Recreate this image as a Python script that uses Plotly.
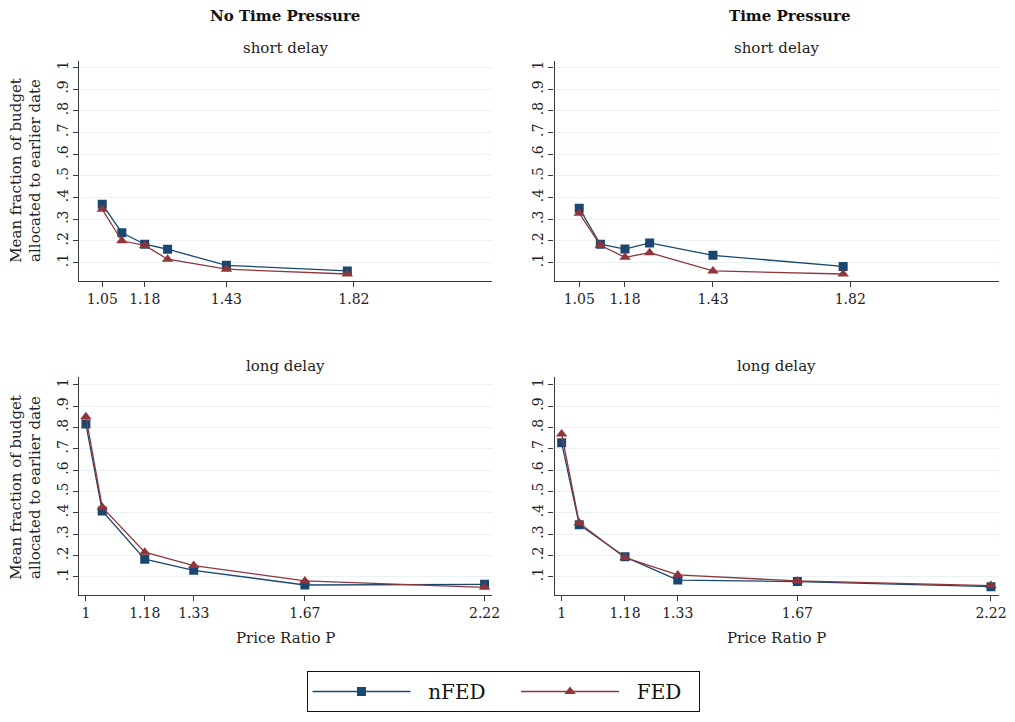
import plotly.graph_objects as go

# ---------------- data ----------------
x_short = [1.05, 1.11, 1.18, 1.25, 1.43, 1.80]
x_long = [1.00, 1.05, 1.18, 1.33, 1.67, 2.22]

short_ticks = [1.05, 1.18, 1.43, 1.82]
long_ticks = [1.00, 1.18, 1.33, 1.67, 2.22]
short_ticktext = ["1.05", "1.18", "1.43", "1.82"]
long_ticktext = ["1", "1.18", "1.33", "1.67", "2.22"]

y_ticks = [0.1, 0.2, 0.3, 0.4, 0.5, 0.6, 0.7, 0.8, 0.9, 1.0]
y_ticktext = [".1", ".2", ".3", ".4", ".5", ".6", ".7", ".8", ".9", "1"]

# No Time Pressure
ntp_short_nfed = [0.369, 0.238, 0.185, 0.162, 0.088, 0.062]
ntp_short_fed = [0.346, 0.201, 0.180, 0.116, 0.070, 0.048]
ntp_long_nfed = [0.816, 0.408, 0.182, 0.130, 0.061, 0.064]
ntp_long_fed = [0.851, 0.426, 0.215, 0.152, 0.080, 0.050]

# Time Pressure
tp_short_nfed = [0.351, 0.185, 0.163, 0.191, 0.134, 0.083]
tp_short_fed = [0.328, 0.180, 0.125, 0.146, 0.062, 0.048]
tp_long_nfed = [0.729, 0.344, 0.193, 0.084, 0.077, 0.053]
tp_long_fed = [0.770, 0.352, 0.189, 0.108, 0.080, 0.058]

col_titles = ["No Time Pressure", "Time Pressure"]
row_titles = ["short delay", "long delay"]
x_title = "Price Ratio P"
y_title = "Mean fraction of budget<br>allocated to earlier date"
series_names = ["nFED", "FED"]

# ---------------- styling ----------------
W, H = 1015, 722
FONT = "DejaVu Serif"
NAVY = "#1a476f"
MAROON = "#90353b"
GRID = "#eaf2f3"
AXIS = "#3a3a3a"
NB = "\u00a0"

def px_x(p):
    return p / W

def px_y(p):
    return 1 - p / H

col_dom = [[px_x(80), px_x(496)], [px_x(559), px_x(1007)]]
row_dom = [[px_y(281), px_y(61)], [px_y(595), px_y(377)]]
y_ranges = [[0.0157, 1.029], [0.014, 1.037]]
x_range = [0.98, 2.243]

fig = go.Figure()

panels = [
    (0, 0, x_short, ntp_short_nfed, ntp_short_fed, short_ticks, short_ticktext),
    (0, 1, x_short, tp_short_nfed, tp_short_fed, short_ticks, short_ticktext),
    (1, 0, x_long, ntp_long_nfed, ntp_long_fed, long_ticks, long_ticktext),
    (1, 1, x_long, tp_long_nfed, tp_long_fed, long_ticks, long_ticktext),
]

for i, (r, c, xs, nfed, fed, tv, tt) in enumerate(panels):
    idx = i + 1
    xa = "x" if idx == 1 else f"x{idx}"
    ya = "y" if idx == 1 else f"y{idx}"
    fig.add_trace(go.Scatter(
        x=xs, y=nfed, xaxis=xa, yaxis=ya, mode="lines+markers",
        name=NB * 2 + series_names[0] + NB * 4,
        legendgroup="nfed", showlegend=(idx == 1),
        line=dict(color=NAVY, width=1.3),
        marker=dict(symbol="square", size=9, color=NAVY),
    ))
    fig.add_trace(go.Scatter(
        x=xs, y=fed, xaxis=xa, yaxis=ya, mode="lines+markers",
        name=NB * 2 + series_names[1] + NB * 2,
        legendgroup="fed", showlegend=(idx == 1),
        line=dict(color=MAROON, width=1.3),
        marker=dict(symbol="triangle-up", size=10, color=MAROON),
    ))
    xkey = "xaxis" if idx == 1 else f"xaxis{idx}"
    ykey = "yaxis" if idx == 1 else f"yaxis{idx}"
    fig.update_layout({
        xkey: dict(
            domain=col_dom[c], anchor=ya, range=x_range,
            tickmode="array", tickvals=tv, ticktext=tt,
            ticks="outside", ticklen=5, tickcolor=AXIS, tickwidth=1,
            showgrid=False, zeroline=False,
            showline=True, linecolor=AXIS, linewidth=1.3,
            tickfont=dict(family=FONT, size=14, color="#222"),
        ),
        ykey: dict(
            domain=row_dom[r], anchor=xa, range=y_ranges[r],
            tickmode="array", tickvals=y_ticks, ticktext=y_ticktext,
            tickangle=-90,
            ticks="outside", ticklen=5, tickcolor=AXIS, tickwidth=1,
            showgrid=True, gridcolor=GRID, gridwidth=1, zeroline=False,
            showline=True, linecolor=AXIS, linewidth=1.3,
            tickfont=dict(family=FONT, size=14, color="#222"),
        ),
    })

annotations = []
col_centers = [288, 783]
title_centers = [287, 796]
for c in range(2):
    annotations.append(dict(
        text=f"<b>{col_titles[c]}</b>", x=px_x(title_centers[c]), y=px_y(16),
        xref="paper", yref="paper", showarrow=False,
        xanchor="center", yanchor="middle",
        font=dict(family=FONT, size=15, color="#111"),
    ))
    for r, yy in enumerate([48, 366]):
        annotations.append(dict(
            text=row_titles[r], x=px_x(col_centers[c]), y=px_y(yy),
            xref="paper", yref="paper", showarrow=False,
            xanchor="center", yanchor="middle",
            font=dict(family=FONT, size=15, color="#222"),
        ))
    annotations.append(dict(
        text=x_title, x=px_x(col_centers[c]), y=px_y(638),
        xref="paper", yref="paper", showarrow=False,
        xanchor="center", yanchor="middle",
        font=dict(family=FONT, size=15, color="#222"),
    ))
for yy in [170, 487]:
    annotations.append(dict(
        text=y_title, x=px_x(26), y=px_y(yy),
        xref="paper", yref="paper", showarrow=False, textangle=-90,
        xanchor="center", yanchor="middle",
        font=dict(family=FONT, size=15, color="#222"),
    ))

fig.update_layout(
    width=W, height=H,
    margin=dict(l=0, r=0, t=0, b=0),
    paper_bgcolor="white", plot_bgcolor="white",
    annotations=annotations,
    showlegend=True,
    legend=dict(
        orientation="h", x=px_x(508), xanchor="center",
        y=px_y(671), yanchor="top",
        bordercolor="#111", borderwidth=1,
        font=dict(family=FONT, size=20, color="#111"),
        itemwidth=98,
        bgcolor="white",
    ),
)

fig.write_html("out.html")
